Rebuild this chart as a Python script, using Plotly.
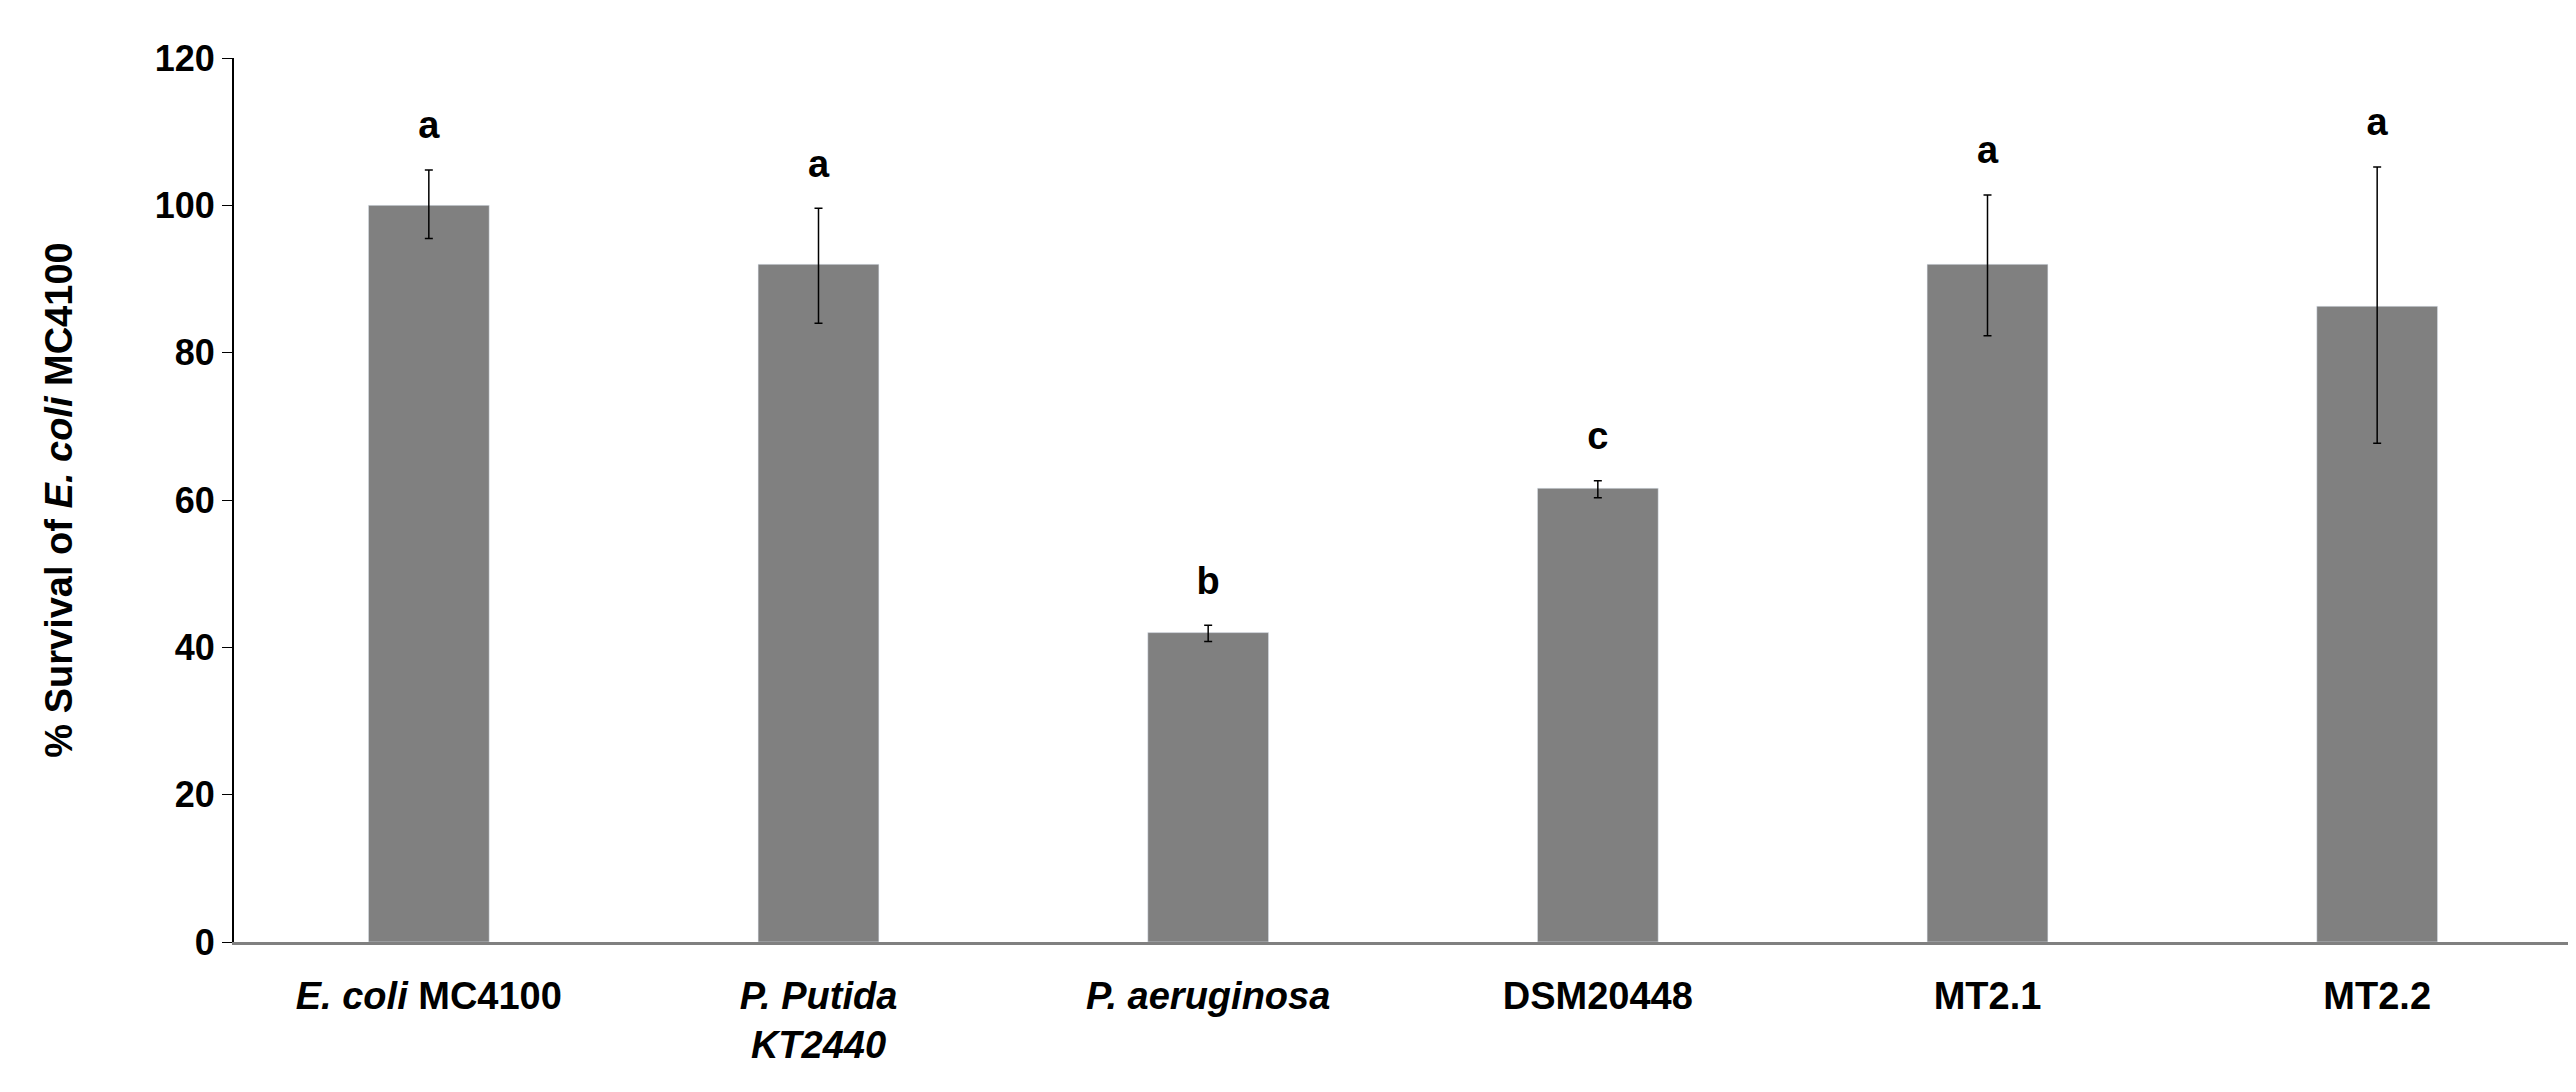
import plotly.graph_objects as go

strains = ["<i>E. coli</i> MC4100", "<i>P. Putida<br>KT2440</i>", "<i>P. aeruginosa</i>",
           "DSM20448", "MT2.1", "MT2.2"]
survival = [100, 92, 42, 61.6, 92, 86.3]
err_plus = [4.8, 7.6, 1.0, 1.0, 9.4, 18.9]
err_minus = [4.5, 8.0, 1.2, 1.3, 9.7, 18.6]
letters = ["a", "a", "b", "c", "a", "a"]

font = dict(family="Liberation Sans, Arial", size=34, color="black", weight="bold")

fig = go.Figure()
fig.add_trace(go.Bar(
    x=strains, y=survival, marker=dict(color="#808080"),
    error_y=dict(type="data", array=err_plus, arrayminus=err_minus,
                 color="black", thickness=1.5, width=4),
))
# significance letters sit a little above each error bar
fig.add_trace(go.Scatter(
    x=strains, y=[v + e + 3 for v, e in zip(survival, err_plus)],
    mode="text", text=letters, textposition="top center",
    textfont=dict(family="Liberation Sans, Arial", size=38, color="black", weight="bold"),
))

fig.update_layout(
    width=2576, height=1092, showlegend=False,
    plot_bgcolor="white", paper_bgcolor="white",
    margin=dict(l=226, r=12, t=50, b=158),
    bargap=0.69, font=font,
    xaxis=dict(showline=True, linecolor="#808080", linewidth=3, ticks="",
               tickfont=dict(size=38), ticklabelstandoff=18),
    yaxis=dict(range=[0, 120], dtick=20, showgrid=False, showline=True,
               linecolor="black", linewidth=2, ticks="outside", ticklen=10,
               tickcolor="black", zeroline=False, tickfont=dict(size=36),
               title=dict(text="% Survival of <i>E. coli</i> MC4100", standoff=70,
                          font=dict(size=38))),
)

fig.write_html("out.html")
